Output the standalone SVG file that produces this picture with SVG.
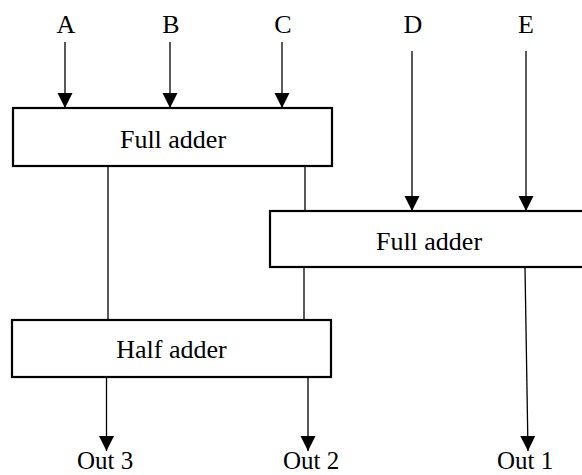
<svg xmlns="http://www.w3.org/2000/svg" width="582" height="475" viewBox="0 0 582 475">
  <style>
    .box { fill: #ffffff; stroke: #000000; stroke-width: 2.2; }
    .wire { stroke: #000000; stroke-width: 1.3; fill: none; }
    .lbl { font-family: "Liberation Serif", "Times New Roman", serif; font-size: 26px; fill: #000000; text-anchor: middle; }
    .out { font-size: 25px; }
  </style>
  <defs>
    <marker id="arrow" markerUnits="userSpaceOnUse" markerWidth="16" markerHeight="16" viewBox="0 0 16 16" refX="15" refY="8" orient="auto">
      <path d="M0,0.5 L15,8 L0,15.5 Z" fill="#000000"/>
    </marker>
  </defs>

  <rect width="582" height="475" fill="#ffffff"/>

  <g id="connectors">
    <!-- inputs -->
    <line class="wire" x1="65" y1="42" x2="65" y2="108" marker-end="url(#arrow)"/>
    <line class="wire" x1="170" y1="42" x2="170" y2="108" marker-end="url(#arrow)"/>
    <line class="wire" x1="282" y1="42" x2="282" y2="108" marker-end="url(#arrow)"/>
    <line class="wire" x1="412" y1="51" x2="412" y2="211" marker-end="url(#arrow)"/>
    <line class="wire" x1="526" y1="51" x2="526" y2="211" marker-end="url(#arrow)"/>
    <!-- internal links -->
    <line class="wire" x1="108" y1="166" x2="108" y2="320"/>
    <line class="wire" x1="305" y1="166" x2="305" y2="211"/>
    <line class="wire" x1="304" y1="267" x2="304" y2="320"/>
    <!-- outputs -->
    <line class="wire" x1="106.5" y1="377" x2="106.5" y2="451" marker-end="url(#arrow)"/>
    <line class="wire" x1="308" y1="377" x2="308" y2="451" marker-end="url(#arrow)"/>
    <line class="wire" x1="525" y1="267" x2="528" y2="451" marker-end="url(#arrow)"/>
  </g>

  <g id="inputs">
    <text class="lbl" x="66" y="33">A</text>
    <text class="lbl" x="171" y="33">B</text>
    <text class="lbl" x="283" y="33">C</text>
    <text class="lbl" x="413" y="33">D</text>
    <text class="lbl" x="526" y="33">E</text>
  </g>

  <g id="full-adder-1">
    <rect class="box" x="13" y="108" width="319" height="58"/>
    <text class="lbl" x="173" y="148">Full adder</text>
  </g>

  <g id="full-adder-2">
    <rect class="box" x="270" y="211" width="318" height="56"/>
    <text class="lbl" x="429" y="250">Full adder</text>
  </g>

  <g id="half-adder">
    <rect class="box" x="12" y="320" width="319" height="57"/>
    <text class="lbl" x="171.5" y="358">Half adder</text>
  </g>

  <g id="outputs">
    <text class="lbl out" x="105" y="469">Out 3</text>
    <text class="lbl out" x="311" y="469">Out 2</text>
    <text class="lbl out" x="525" y="469">Out 1</text>
  </g>
</svg>
